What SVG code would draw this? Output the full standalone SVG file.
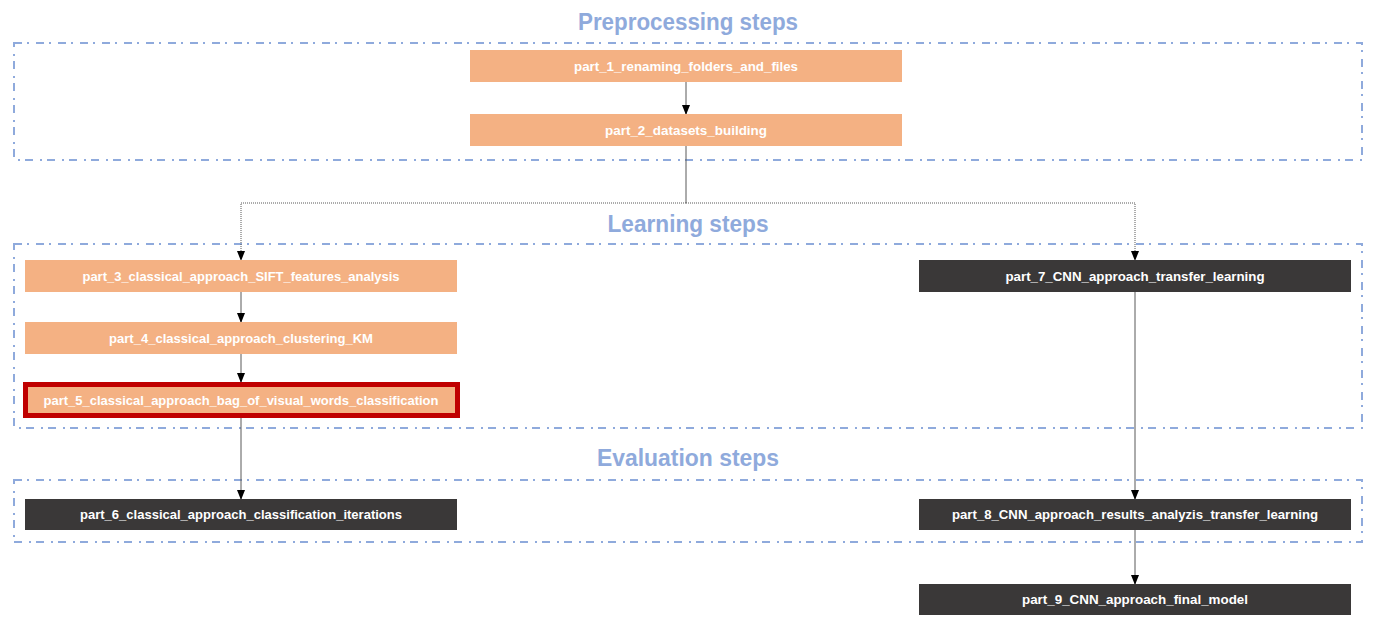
<svg xmlns="http://www.w3.org/2000/svg" width="1376" height="624" viewBox="0 0 1376 624">
<defs>
<marker id="arr" markerWidth="10" markerHeight="10" refX="9" refY="5" orient="auto" markerUnits="userSpaceOnUse">
<path d="M0,1 L10,5 L0,9 Z" fill="#000"/>
</marker>
<style>
.grp{fill:none;stroke:#8FAADC;stroke-width:2;stroke-dasharray:8 5 2 7}
.title{font-family:"Liberation Sans",Arial,sans-serif;font-weight:bold;font-size:23px;fill:#8FAADC;text-anchor:middle}
.lbl{font-family:"Liberation Sans",Arial,sans-serif;font-weight:bold;font-size:13px;fill:#fff;text-anchor:middle}
.or{fill:#F4B183}
.dk{fill:#3A3838}
.ln{fill:none;stroke:#595959;stroke-width:1}
.dot{fill:none;stroke:#595959;stroke-width:1;stroke-dasharray:1 1}
</style>
</defs>
<rect width="1376" height="624" fill="#fff"/>
<g id="groups">
<rect class="grp" x="14" y="43" width="1348" height="117"/>
<rect class="grp" x="14" y="244" width="1348" height="184"/>
<rect class="grp" x="14" y="480" width="1348" height="62"/>
<text class="title" x="688" y="30" textLength="220" lengthAdjust="spacingAndGlyphs">Preprocessing steps</text>
<text class="title" x="688" y="232" textLength="161" lengthAdjust="spacingAndGlyphs">Learning steps</text>
<text class="title" x="688" y="466" textLength="182" lengthAdjust="spacingAndGlyphs">Evaluation steps</text>
</g>
<g id="connectors">
<line class="ln" x1="686" y1="82" x2="686" y2="114" marker-end="url(#arr)"/>
<line class="ln" x1="686" y1="146" x2="686" y2="203"/>
<polyline class="dot" points="686,203 241,203 241,260" marker-end="url(#arr)"/>
<polyline class="dot" points="686,203 1135,203 1135,260" marker-end="url(#arr)"/>
<line class="ln" x1="241" y1="292" x2="241" y2="322" marker-end="url(#arr)"/>
<line class="ln" x1="241" y1="354" x2="241" y2="382" marker-end="url(#arr)"/>
<line class="ln" x1="241" y1="418" x2="241" y2="499" marker-end="url(#arr)"/>
<line class="ln" x1="1135" y1="292" x2="1135" y2="499" marker-end="url(#arr)"/>
<line class="ln" x1="1135" y1="530" x2="1135" y2="584" marker-end="url(#arr)"/>
</g>
<g id="part1"><rect class="or" x="470" y="50" width="432" height="32"/><text class="lbl" x="686" y="70.5" textLength="224" lengthAdjust="spacingAndGlyphs">part_1_renaming_folders_and_files</text></g>
<g id="part2"><rect class="or" x="470" y="114" width="432" height="32"/><text class="lbl" x="686" y="134.5" textLength="162" lengthAdjust="spacingAndGlyphs">part_2_datasets_building</text></g>
<g id="part3"><rect class="or" x="25" y="260" width="432" height="32"/><text class="lbl" x="241" y="280.5" textLength="317" lengthAdjust="spacingAndGlyphs">part_3_classical_approach_SIFT_features_analysis</text></g>
<g id="part4"><rect class="or" x="25" y="322" width="432" height="32"/><text class="lbl" x="241" y="342.5" textLength="264" lengthAdjust="spacingAndGlyphs">part_4_classical_approach_clustering_KM</text></g>
<g id="part5"><rect class="or" x="25.5" y="384.5" width="432" height="31" stroke="#C00000" stroke-width="5"/><text class="lbl" x="241" y="404.5" textLength="395" lengthAdjust="spacingAndGlyphs">part_5_classical_approach_bag_of_visual_words_classification</text></g>
<g id="part6"><rect class="dk" x="25" y="499" width="432" height="31"/><text class="lbl" x="241" y="519" textLength="322" lengthAdjust="spacingAndGlyphs">part_6_classical_approach_classification_iterations</text></g>
<g id="part7"><rect class="dk" x="919" y="260" width="432" height="32"/><text class="lbl" x="1135" y="280.5" textLength="259" lengthAdjust="spacingAndGlyphs">part_7_CNN_approach_transfer_learning</text></g>
<g id="part8"><rect class="dk" x="919" y="499" width="432" height="31"/><text class="lbl" x="1135" y="519" textLength="366" lengthAdjust="spacingAndGlyphs">part_8_CNN_approach_results_analyzis_transfer_learning</text></g>
<g id="part9"><rect class="dk" x="919" y="584" width="432" height="31"/><text class="lbl" x="1135" y="604" textLength="226" lengthAdjust="spacingAndGlyphs">part_9_CNN_approach_final_model</text></g>
</svg>
